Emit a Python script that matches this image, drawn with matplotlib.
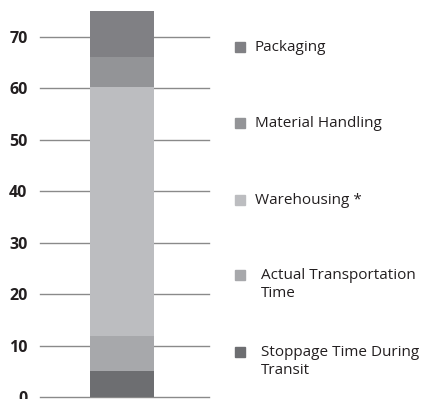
import matplotlib
matplotlib.use("Agg")
import matplotlib.pyplot as plt
from matplotlib.patches import Rectangle

categories = ["Stoppage Time During\nTransit", "Actual Transportation\nTime", "Warehousing *",
              "Material Handling", "Packaging"]
values = [5.0, 6.9, 48.3, 5.9, 9.0]
colors = ["#6d6e71", "#a7a8ab", "#bcbdc0", "#939497", "#808084"]
yticks = [0, 10, 20, 30, 40, 50, 60, 70]

W, H = 427, 399
fig = plt.figure(figsize=(W / 100, H / 100), dpi=100)
ax = fig.add_axes([40 / W, 2 / H, 169 / W, 391 / H])
ax.set_xlim(0, 1)
ax.set_ylim(0, 76)

for t in yticks:
    ax.axhline(t, color="#8a8a8a", lw=1.0, zorder=1, clip_on=False)

bottom = 0
for v, c in zip(values, colors):
    ax.bar(0.485, v, width=0.379, bottom=bottom, color=c, zorder=2, linewidth=0)
    bottom += v

for s in ax.spines.values():
    s.set_visible(False)
ax.set_xticks([])
ax.set_yticks(yticks)
ax.set_yticklabels([str(t) for t in yticks], fontsize=11.5, fontweight="bold",
                   family="Open Sans", color="#231f20")
ax.tick_params(axis="y", length=0, pad=9)

# legend (manual, right side)
leg_y = [352, 275, 200, 123, 47]
text_x = [261, 261, 255, 255, 255]
for lab, c, y, tx in zip(categories, colors, leg_y, text_x):
    fig.patches.append(Rectangle((235 / W, 1 - (y + 5) / H), 10 / W, 10 / H,
                                 transform=fig.transFigure, color=c, figure=fig))
    fig.text(tx / W, 1 - (y - 7) / H, lab, fontsize=11, family="Open Sans",
             color="#231f20", va="top", ha="left", linespacing=1.25)

fig.savefig("out.png", dpi=100, facecolor="white")
